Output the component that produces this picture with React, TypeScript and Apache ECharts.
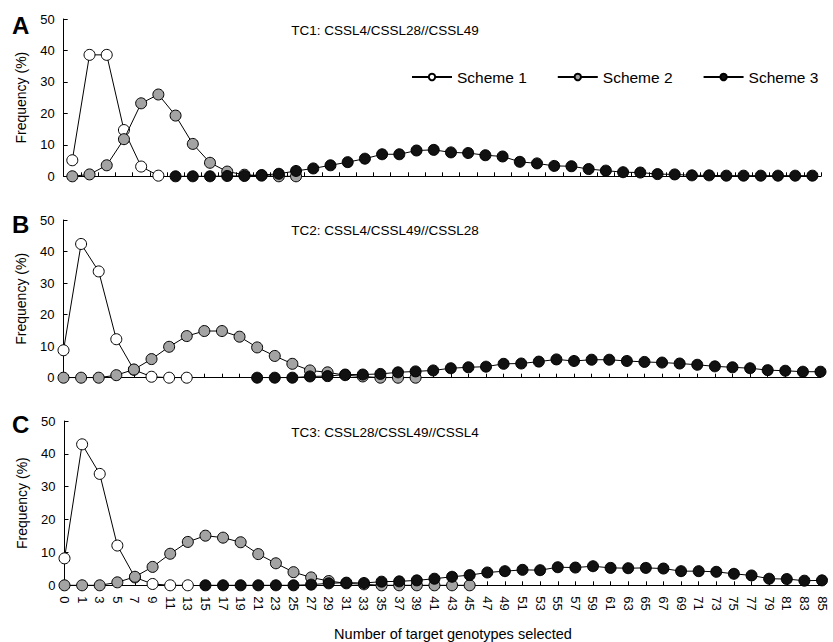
import React, { useEffect, useRef } from "react";
import * as echarts from "echarts";

const categories = [
  "0", "1", "3", "5", "7", "9", "11", "13", "15", "17", "19", "21", "23", "25", "27", "29",
  "31", "33", "35", "37", "39", "41", "43", "45", "47", "49", "51", "53", "55", "57", "59",
  "61", "63", "65", "67", "69", "71", "73", "75", "77", "79", "81", "83", "85",
];

const yTicks = { min: 0, max: 50, interval: 10 };

const panelTitles = ["TC1: CSSL4/CSSL28//CSSL49", "TC2: CSSL4/CSSL49//CSSL28", "TC3: CSSL28/CSSL49//CSSL4"];
const panelLetters = ["A", "B", "C"];
const schemeNames = ["Scheme 1", "Scheme 2", "Scheme 3"];

// Panel A (TC1)
const tc1Scheme1 = [5.1, 38.6, 38.6, 14.7, 3.1, 0.2];
const tc1Scheme2 = [0, 0.6, 3.5, 11.8, 23.2, 26.0, 19.3, 10.3, 4.3, 1.5, 0.5, 0.2, 0, 0];
const tc1Scheme3 = [
  null, null, null, null, null, null,
  0, 0, 0, 0.1, 0.1, 0.4, 0.8, 1.7, 2.5, 3.5, 4.5, 5.6, 7.0, 7.0, 8.2, 8.4, 7.6, 7.4, 6.7, 6.3,
  4.6, 4.1, 3.3, 3.2, 2.3, 1.8, 1.3, 1.2, 0.7, 0.6, 0.3, 0.3, 0.2, 0.2, 0.2, 0.2, 0.2, 0.2,
];

// Panel B (TC2)
const tc2Scheme1 = [8.7, 42.4, 33.7, 12.2, 2.5, 0.3, 0, 0];
const tc2Scheme2 = [0, 0, 0, 0.8, 2.6, 5.9, 9.8, 13.2, 14.8, 14.8, 13.0, 9.6, 6.9, 4.4, 2.3, 1.7, 0.8, 0.4, 0, 0, 0];
const tc2Scheme3 = [
  null, null, null, null, null, null, null, null, null, null, null,
  0, 0, 0, 0.4, 0.5, 1.0, 1.0, 1.2, 1.7, 2.0, 2.3, 3.0, 3.3, 3.5, 4.4, 4.5, 5.1, 5.8, 5.3, 5.7,
  5.7, 5.3, 5.0, 4.8, 4.5, 4.1, 3.6, 3.3, 3.0, 2.4, 2.2, 1.9, 1.9,
];

// Panel C (TC3)
const tc3Scheme1 = [8.2, 42.9, 33.9, 12.1, 2.4, 0.4, 0, 0];
const tc3Scheme2 = [0, 0, 0, 0.9, 2.6, 5.6, 9.6, 13.2, 15.1, 14.5, 13.1, 9.5, 6.7, 4.0, 2.4, 1.3, 0.6, 0.3, 0, 0, 0, 0, 0, 0];
const tc3Scheme3 = [
  null, null, null, null, null, null, null, null,
  0, 0, 0, 0, 0, 0, 0.2, 0.6, 0.8, 0.7, 1.1, 1.2, 1.5, 2.0, 2.6, 3.1, 3.9, 4.3, 4.7, 4.6, 5.5,
  5.4, 5.8, 5.3, 5.2, 5.3, 5.1, 4.3, 4.3, 4.1, 3.5, 3.0, 2.0, 1.9, 1.4, 1.5,
];

const panelData = [
  [tc1Scheme1, tc1Scheme2, tc1Scheme3],
  [tc2Scheme1, tc2Scheme2, tc2Scheme3],
  [tc3Scheme1, tc3Scheme2, tc3Scheme3],
];

const FONT = "'Liberation Sans', Arial, Helvetica, sans-serif";
const fills = ["#ffffff", "#a3a3a3", "#111111"];

export default function App() {
  const ref = useRef<HTMLDivElement>(null);

  useEffect(() => {
    if (!ref.current) return;
    const chart = echarts.init(ref.current, null, { renderer: "svg" });

    const grids = [
      { left: 63.7, top: 19, width: 757.3, height: 157.3 },
      { left: 63.5, top: 220, width: 757, height: 157.7 },
      { left: 64.5, top: 421, width: 757.5, height: 164.3 },
    ];

    const xAxes = grids.map((_, i) => ({
      type: "category",
      gridIndex: i,
      data: categories,
      boundaryGap: i === 0,
      axisLine: { show: true, lineStyle: { color: "#000", width: 1 } },
      axisTick: { show: true, inside: true, length: 4, interval: 0, lineStyle: { color: "#000", width: 1 } },
      axisLabel: {
        show: i === 2,
        interval: 0,
        rotate: -90,
        fontSize: 13,
        color: "#000",
        fontFamily: FONT,
        margin: 11,
      },
      splitLine: { show: false },
    }));

    const yAxes = grids.map((_, i) => ({
      type: "value",
      gridIndex: i,
      min: yTicks.min,
      max: yTicks.max,
      interval: yTicks.interval,
      name: "Frequency (%)",
      nameLocation: "middle",
      nameGap: 36,
      nameTextStyle: { fontSize: 14, color: "#000", fontFamily: FONT },
      axisLine: { show: true, lineStyle: { color: "#000", width: 1 } },
      axisTick: { show: true, inside: true, length: 4, lineStyle: { color: "#000", width: 1 } },
      axisLabel: { fontSize: 13, color: "#000", fontFamily: FONT, margin: 9 },
      splitLine: { show: false },
    }));

    const series: any[] = [];
    panelData.forEach((sets, p) => {
      sets.forEach((data, s) => {
        series.push({
          type: "line",
          name: schemeNames[s],
          xAxisIndex: p,
          yAxisIndex: p,
          data,
          symbol: "circle",
          symbolSize: 11,
          connectNulls: false,
          z: 2 + s,
          lineStyle: { color: "#000", width: 1 },
          itemStyle: { color: fills[s], borderColor: "#000", borderWidth: 1 },
          emphasis: { disabled: true },
        });
      });
    });

    const graphic: any[] = [];
    const letterY = [25.5, 225, 425];
    const titleY = [30, 230, 432];
    for (let i = 0; i < 3; i++) {
      graphic.push({
        type: "text",
        left: 12,
        top: letterY[i] - 12.5,
        style: { text: panelLetters[i], fontSize: 24, fontWeight: "bold", fill: "#000", fontFamily: FONT },
      });
      graphic.push({
        type: "text",
        x: 385,
        y: titleY[i],
        style: {
          text: panelTitles[i],
          fontSize: 13.5,
          fill: "#000",
          fontFamily: FONT,
          align: "center",
          verticalAlign: "middle",
        },
      });
    }
    graphic.push({
      type: "text",
      x: 453,
      y: 634,
      style: {
        text: "Number of target genotypes selected",
        fontSize: 14.5,
        fill: "#000",
        fontFamily: FONT,
        align: "center",
        verticalAlign: "middle",
      },
    });

    chart.setOption({
      animation: false,
      textStyle: { fontFamily: FONT },
      grid: grids,
      xAxis: xAxes,
      yAxis: yAxes,
      legend: {
        data: schemeNames,
        left: 411,
        top: 69,
        padding: 0,
        itemWidth: 40,
        itemHeight: 8,
        itemGap: 30,
        textStyle: { fontSize: 15.5, color: "#000", fontFamily: FONT },
        selectedMode: false,
      },
      series,
      graphic,
    });

    return () => chart.dispose();
  }, []);

  return (
    <div
      ref={ref}
      style={{ position: "absolute", left: 0, top: 0, width: 833, height: 642, background: "#fff" }}
    />
  );
}
